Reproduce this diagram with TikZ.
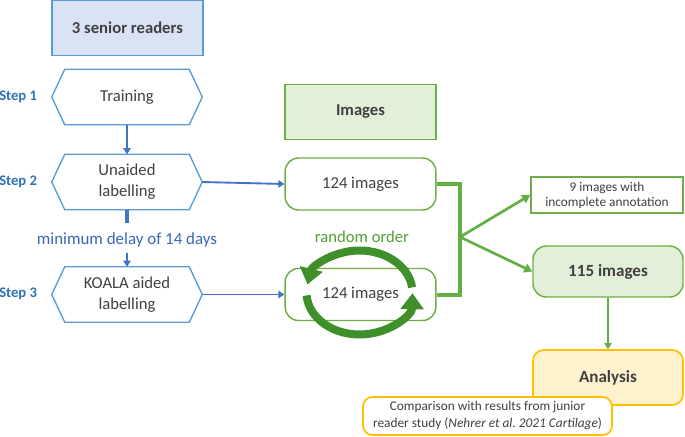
\documentclass[tikz,border=0pt]{standalone}
\usepackage{fontspec}
\setmainfont{Carlito}
\usetikzlibrary{calc,arrows.meta}
\definecolor{txtgray}{HTML}{404040}
\definecolor{hexblue}{HTML}{5B9BD5}
\definecolor{arrblue}{HTML}{4472C4}
\definecolor{stepblue}{HTML}{2E75B6}
\definecolor{delayblue}{HTML}{3A66B5}
\definecolor{lightblue}{HTML}{DAE3F3}
\definecolor{grborder}{HTML}{70AD47}
\definecolor{grfill}{HTML}{E2F0D9}
\definecolor{grline}{HTML}{62B043}
\definecolor{grcirc}{HTML}{3F8F2B}
\definecolor{grtext}{HTML}{55A035}
\definecolor{ylborder}{HTML}{FFC000}
\definecolor{ylfill}{HTML}{FFF2CC}
\newcommand\hexdraw[1]{\draw[hexline] (#1.west) -- ($(#1.north west)+(13,0)$) -- ($(#1.north east)+(-13,0)$) -- (#1.east) -- ($(#1.south east)+(-13,0)$) -- ($(#1.south west)+(13,0)$) -- cycle;}
\begin{document}
\begin{tikzpicture}[x=0.75pt,y=-0.75pt,
  hexnode/.style={minimum width=112.5pt,minimum height=41.25pt,inner sep=0pt,align=center,
    font=\fontsize{12.5}{15.75}\selectfont,text=txtgray},
  hexline/.style={draw=hexblue,line width=1pt,line join=miter},
  steplbl/.style={font=\fontsize{11}{13}\selectfont\bfseries,text=stepblue,inner sep=0pt,anchor=west},
  headbox/.style={minimum width=113pt,minimum height=41.5pt,inner sep=0pt,line width=1.2pt,
    font=\fontsize{12.5}{15}\selectfont\bfseries,text=txtgray},
  imgbox/.style={draw=grborder,line width=1.1pt,rounded corners=10pt,minimum width=113pt,minimum height=39pt,
    inner sep=0pt,font=\fontsize{12.5}{15}\selectfont,text=txtgray,fill=white},
  bluearr/.style={draw=arrblue,line width=1.4pt,-{Triangle[width=5.5pt,length=4.5pt]}},
  greenarr/.style={draw=grline,line width=2pt,-{Triangle[width=7pt,length=6pt]}},
  circarr/.style={draw=grcirc,line width=6pt,-{Triangle[width=17pt,length=12pt]}},
]
\useasboundingbox[fill=white] (0,0) rectangle (685,436);

% left column
\node[headbox,draw=hexblue,fill=lightblue] (senior) at (127.5,28) {3 senior readers};

\node[hexnode] (s1) at (127,97) {Training};
\hexdraw{s1}
\node[hexnode] (s2) at (127,182) {Unaided\\labelling};
\hexdraw{s2}
\node[hexnode] (s3) at (127,294.5) {KOALA aided\\labelling};
\hexdraw{s3}

\node[steplbl] (l1) at (-1,97) {Step 1};
\node[steplbl] (l2) at (-1,182) {Step 2};
\node[steplbl] (l3) at (-1,294) {Step 3};

\draw[bluearr,line width=2pt] (s1.south) -- (s2.north);
\coordinate (stub) at (127,223);
\draw[draw=arrblue,line width=3.5pt] (s2.south) -- (stub);
\node[font=\fontsize{12.7}{15}\selectfont,text=delayblue,inner sep=1pt] (delay) at (127,240) {minimum delay of 14 days};
\draw[bluearr,line width=1.8pt] ([yshift=-3pt]delay.south) -- (s3.north);

% images column
\node[headbox,draw=grborder,fill=grfill] (img) at (360.5,112) {Images};
\node[imgbox] (b1) at (360.5,184) {124 images};
\node[imgbox] (b2) at (360.5,294.5) {124 images};

\draw[bluearr] (s2.east) -- (b1.west);
\draw[bluearr] (s3.east) -- (b2.west);

\node[font=\fontsize{12.5}{15}\selectfont,text=grtext,inner sep=0pt] (rnd) at (362,237) {random order};

\coordinate (rc) at (359.5,292.5);
\draw[circarr] ([shift={(-7:53 and 42)}]rc) arc[start angle=-7,end angle=-169,x radius=53,y radius=42];
\draw[circarr] ([shift={(176:53 and 42)}]rc) arc[start angle=176,end angle=1,x radius=53,y radius=42];

% bracket and branches
\coordinate (br) at (460,237);
\draw[draw=grline,line width=3pt,line join=miter] (b1.east) -| (br) |- (b2.east);

\node[draw=grborder,line width=1.1pt,minimum width=114pt,minimum height=27pt,inner sep=0pt,align=center,
  font=\fontsize{10}{11.25}\selectfont,text=txtgray] (nine) at (607,195) {9 images with\\incomplete annotation};
\node[imgbox,fill=grfill,minimum width=112.5pt,minimum height=38.25pt,font=\fontsize{12.8}{15}\selectfont\bfseries] (b115) at (608,271.5) {115 images};

\draw[greenarr] (br) -- (nine.west);
\draw[greenarr] (br) -- (b115.west);

% analysis
\node[draw=ylborder,fill=ylfill,line width=1.3pt,rounded corners=8pt,minimum width=112.5pt,minimum height=41.25pt,
  inner sep=0pt,font=\fontsize{12.8}{15}\selectfont\bfseries,text=txtgray] (ana) at (608,377.5) {\raisebox{2pt}{Analysis}};
\draw[greenarr,line width=1.5pt,-{Triangle[width=5.5pt,length=4.5pt]}] (b115.south) -- (ana.north);
\node[draw=ylborder,fill=white,line width=1.3pt,rounded corners=7pt,minimum width=186.75pt,minimum height=28.5pt,
  inner sep=0pt,align=center,font=\fontsize{10}{12.75}\selectfont,text=txtgray] (cmp) at (487.5,416)
  {Comparison with results from junior\\reader study (\textit{Nehrer et al.\ 2021 Cartilage})};
\end{tikzpicture}
\end{document}
